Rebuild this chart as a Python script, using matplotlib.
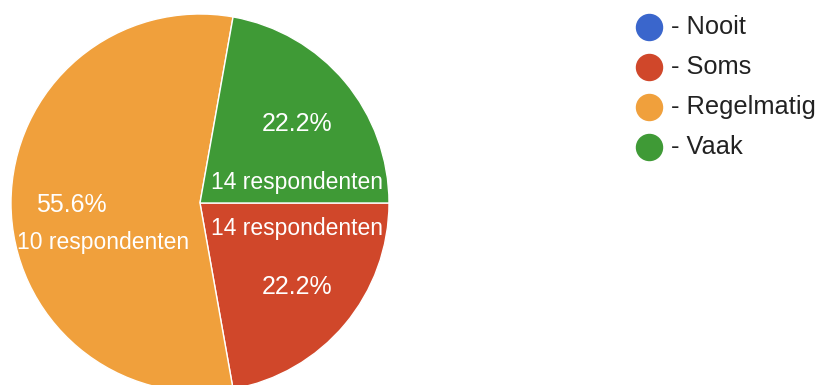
import matplotlib
matplotlib.use("Agg")
import matplotlib.pyplot as plt

plt.rcParams['font.family'] = ['Liberation Sans', 'DejaVu Sans']

categories = ['Nooit', 'Soms', 'Regelmatig', 'Vaak']
percentages = [0.0, 22.2, 55.6, 22.2]
respondents = [0, 14, 10, 14]
colors = ['#3a66cc', '#d0472a', '#f0a03c', '#3f9a36']

W, H = 819, 385
fig = plt.figure(figsize=(W / 100, H / 100), dpi=100)
ax = fig.add_axes([0, 0, 1, 1])

cx, cy, r = 200, H - 203, 189
wedges, _ = ax.pie(percentages, colors=colors, startangle=0, counterclock=False,
                   center=(cx, cy), radius=r,
                   wedgeprops=dict(edgecolor='white', linewidth=1.0))
ax.set_xlim(0, W)
ax.set_ylim(0, H)
ax.set_aspect('auto')
ax.axis('off')

# label positions in pixels from the top-left: (pct x, pct y, count x, count y)
label_pos = {
    'Vaak': (297, 124, 297, 182),
    'Soms': (297, 287, 297, 229),
    'Regelmatig': (71, 205, 103, 242),
}
for name, pct, n in zip(categories, percentages, respondents):
    if name not in label_pos:
        continue
    px, py, qx, qy = label_pos[name]
    ax.text(px, H - py, f'{pct:.1f}%', color='white', fontsize=18,
            ha='center', va='center')
    ax.text(qx, H - qy, f'{n} respondenten', color='white', fontsize=16.5,
            ha='center', va='center')

# legend
for i, (name, c) in enumerate(zip(categories, colors)):
    y = H - (27 + 40 * i)
    ax.scatter([649], [y], s=26 ** 2 * 0.52, color=c, zorder=3)
    ax.text(671, y, f'- {name}', fontsize=18.3, color='#222222',
            ha='left', va='center')

fig.savefig('out.png', dpi=100)
